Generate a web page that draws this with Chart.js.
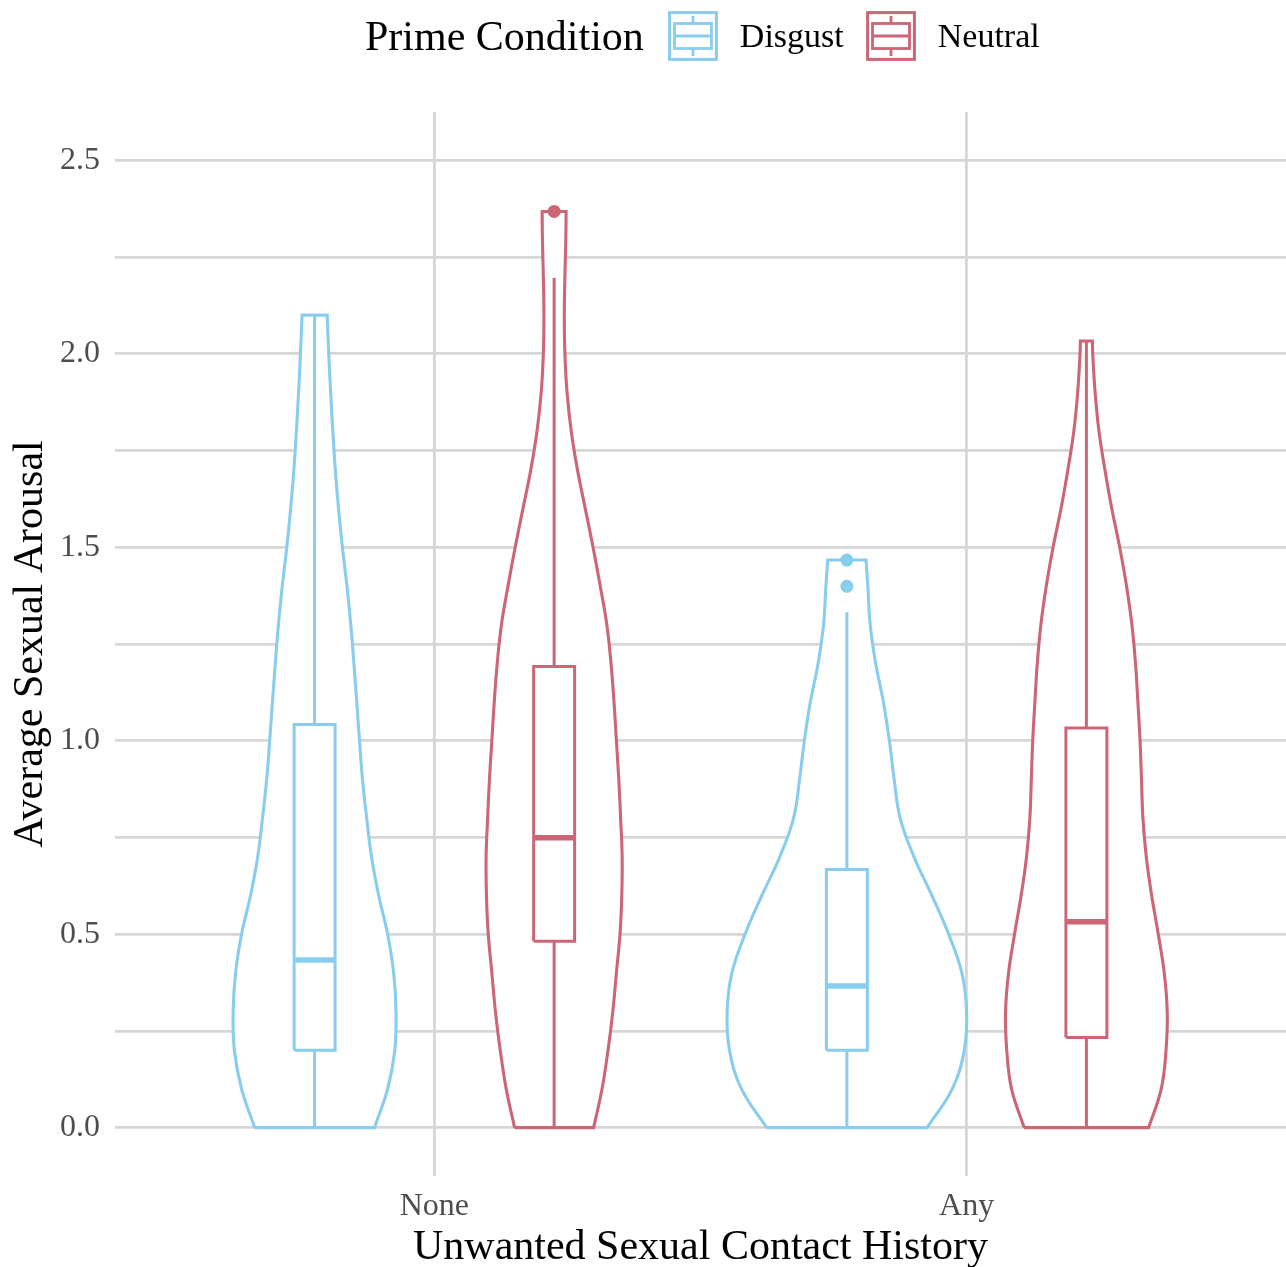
<!DOCTYPE html>
<html>
<head>
<meta charset="utf-8">
<title>Average Sexual Arousal by Unwanted Sexual Contact History</title>
<script src="https://cdn.jsdelivr.net/npm/chart.js@4.4.1/dist/chart.umd.min.js"></script>
<style>
    body { margin: 0; background: #ffffff; }
    #wrap { position: relative; width: 1286px; height: 1267px; overflow: hidden; }
    #chart { display: block; }
    #legend {
        position: absolute; top: 0; left: 365px; height: 72px;
        display: flex; align-items: center;
        font-family: 'Liberation Serif', 'Times New Roman', serif; color: #000;
    }
    #legend .title { font-size: 42px; margin-right: 24px; }
    #legend .key { width: 50px; height: 50px; margin-right: 22px; }
    #legend .label { font-size: 34px; margin-right: 22px; }
</style>
</head>
<body>
<div id="wrap">
    <canvas id="chart" width="1286" height="1267"></canvas>
    <div id="legend"></div>
</div>
<script>
// Categories and groups
const categories = ['None', 'Any'];
const conditions = ['Disgust', 'Neutral'];
const colors = ['#88CCEE', '#CC6677'];

// Axis ticks
const xTickValues = [1, 2];
const yLabelTicks = [0, 0.5, 1.0, 1.5, 2.0, 2.5];
const yMinorTicks = [0.25, 0.75, 1.25, 1.75, 2.25];

// Violin outlines (y level, relative density)
const noneDisgustY = [0, 0.1, 0.2, 0.3, 0.4, 0.5, 0.6, 0.7, 0.8, 0.9, 1.0, 1.1, 1.2, 1.3, 1.4, 1.5, 1.6, 1.7, 1.8, 1.9, 2.0, 2.1];
const noneDisgustDensity = [0.50, 0.61, 0.67, 0.68, 0.66, 0.61, 0.535, 0.475, 0.435, 0.40, 0.375, 0.352, 0.328, 0.302, 0.27, 0.232, 0.20, 0.173, 0.152, 0.134, 0.118, 0.105];

const noneNeutralY = [0, 0.1, 0.2, 0.3, 0.4, 0.5, 0.6, 0.7, 0.8, 0.9, 1.0, 1.1, 1.2, 1.3, 1.4, 1.5, 1.6, 1.7, 1.8, 1.9, 2.0, 2.1, 2.2, 2.3, 2.368];
const noneNeutralDensity = [0.33, 0.40, 0.45, 0.49, 0.52, 0.55, 0.565, 0.568, 0.555, 0.54, 0.52, 0.50, 0.475, 0.44, 0.385, 0.325, 0.26, 0.195, 0.143, 0.108, 0.09, 0.085, 0.09, 0.098, 0.10];

const anyDisgustY = [0, 0.1, 0.2, 0.3, 0.4, 0.5, 0.6, 0.7, 0.8, 0.9, 1.0, 1.1, 1.2, 1.3, 1.4, 1.467];
const anyDisgustDensity = [0.67, 0.88, 0.98, 1.0, 0.96, 0.85, 0.71, 0.56, 0.445, 0.395, 0.355, 0.305, 0.24, 0.195, 0.175, 0.16];

const anyNeutralY = [0, 0.1, 0.2, 0.3, 0.4, 0.5, 0.6, 0.7, 0.8, 0.9, 1.0, 1.1, 1.2, 1.3, 1.4, 1.5, 1.6, 1.7, 1.8, 1.9, 2.0, 2.033];
const anyNeutralDensity = [0.52, 0.625, 0.665, 0.675, 0.65, 0.60, 0.545, 0.50, 0.472, 0.46, 0.448, 0.43, 0.41, 0.38, 0.335, 0.278, 0.212, 0.155, 0.105, 0.073, 0.053, 0.05];

// Boxplot statistics per category [None, Any]
const disgustLower = [0, 0];
const disgustQ1 = [0.20, 0.20];
const disgustMedian = [0.433, 0.366];
const disgustQ3 = [1.042, 0.667];
const disgustUpper = [2.1, 1.332];
const disgustOutliers = [[], [1.467, 1.399]];

const neutralLower = [0, 0];
const neutralQ1 = [0.482, 0.233];
const neutralMedian = [0.749, 0.532];
const neutralQ3 = [1.192, 1.033];
const neutralUpper = [2.196, 2.033];
const neutralOutliers = [[2.368], []];

// Layout constants
const dodge = 0.225;
const violinHalfWidth = 0.225;
const boxHalfWidth = 0.0385;
const serif = "'Liberation Serif', 'Times New Roman', serif";

const violins = [
    { cat: 0, cond: 0, ys: noneDisgustY, dens: noneDisgustDensity },
    { cat: 0, cond: 1, ys: noneNeutralY, dens: noneNeutralDensity },
    { cat: 1, cond: 0, ys: anyDisgustY, dens: anyDisgustDensity },
    { cat: 1, cond: 1, ys: anyNeutralY, dens: anyNeutralDensity }
];

const boxStats = [
    { lower: disgustLower, q1: disgustQ1, med: disgustMedian, q3: disgustQ3, upper: disgustUpper, out: disgustOutliers },
    { lower: neutralLower, q1: neutralQ1, med: neutralMedian, q3: neutralQ3, upper: neutralUpper, out: neutralOutliers }
];

function centerX(cat, cond) {
    return xTickValues[cat] + (cond === 0 ? -dodge : dodge);
}

// Outline with doubled corner points so the curve keeps sharp corners
function violinOutline(cx, ys, dens) {
    const right = ys.map((y, i) => ({ x: cx + dens[i] * violinHalfWidth, y: y }));
    const left = ys.map((y, i) => ({ x: cx - dens[i] * violinHalfWidth, y: y }));
    const n = ys.length - 1;
    const pts = [left[0], right[0]];
    for (let i = 0; i <= n; i++) pts.push(right[i]);
    pts.push(right[n]);
    pts.push(left[n]);
    for (let i = n; i >= 0; i--) pts.push(left[i]);
    return pts;
}

function lineDataset(points, color, width) {
    return {
        data: points, showLine: true, borderColor: color, borderWidth: width,
        pointRadius: 0, fill: false, tension: 0, borderJoinStyle: 'miter'
    };
}

const datasets = [];

// Violins first (under the boxes)
violins.forEach(v => {
    const cx = centerX(v.cat, v.cond);
    datasets.push({
        data: violinOutline(cx, v.ys, v.dens),
        showLine: true, borderColor: colors[v.cond], borderWidth: 3.1,
        backgroundColor: '#ffffff', fill: 'shape',
        pointRadius: 0, tension: 0.4, borderJoinStyle: 'miter'
    });
});

// Boxplots
boxStats.forEach((s, cond) => {
    categories.forEach((c, cat) => {
        const cx = centerX(cat, cond);
        const col = colors[cond];
        datasets.push(lineDataset([{ x: cx, y: s.q3[cat] }, { x: cx, y: s.upper[cat] }], col, 3));
        datasets.push(lineDataset([{ x: cx, y: s.q1[cat] }, { x: cx, y: s.lower[cat] }], col, 3));
        datasets.push(lineDataset([
            { x: cx - boxHalfWidth, y: s.q1[cat] },
            { x: cx + boxHalfWidth, y: s.q1[cat] },
            { x: cx + boxHalfWidth, y: s.q3[cat] },
            { x: cx - boxHalfWidth, y: s.q3[cat] },
            { x: cx - boxHalfWidth, y: s.q1[cat] }
        ], col, 3));
        datasets.push(lineDataset([
            { x: cx - boxHalfWidth, y: s.med[cat] },
            { x: cx + boxHalfWidth, y: s.med[cat] }
        ], col, 5.5));
        if (s.out[cat].length) {
            datasets.push({
                data: s.out[cat].map(y => ({ x: cx, y: y })),
                showLine: false, pointRadius: 6.5, pointBorderWidth: 0,
                pointBackgroundColor: col, pointBorderColor: col
            });
        }
    });
});

// Later datasets drawn on top
datasets.forEach((d, i) => { d.order = datasets.length - i; });

const gridColor = '#d6d6d6';

new Chart(document.getElementById('chart').getContext('2d'), {
    type: 'scatter',
    data: { datasets: datasets },
    options: {
        responsive: false,
        animation: false,
        events: [],
        layout: { autoPadding: false, padding: { top: 112, right: 0, bottom: 0, left: 0 } },
        plugins: { legend: { display: false }, tooltip: { enabled: false } },
        scales: {
            x: {
                type: 'linear', min: 0.4, max: 2.6,
                afterBuildTicks: scale => { scale.ticks = xTickValues.map(v => ({ value: v })); },
                afterFit: scale => {
                    scale.height = 91;
                    scale.paddingLeft = 0;
                    scale.paddingRight = 0;
                },
                ticks: {
                    callback: v => categories[xTickValues.indexOf(v)],
                    font: { family: serif, size: 32 }, color: '#4d4d4d', padding: 11
                },
                grid: { color: gridColor, lineWidth: 2.8, drawTicks: false },
                border: { display: false },
                title: {
                    display: true, text: 'Unwanted Sexual Contact History',
                    font: { family: serif, size: 42, lineHeight: 0.9 }, color: '#000000',
                    padding: { top: 0, bottom: 0 }
                }
            },
            y: {
                type: 'linear', min: -0.125, max: 2.625,
                afterBuildTicks: scale => {
                    scale.ticks = yLabelTicks.concat(yMinorTicks).sort((a, b) => a - b).map(v => ({ value: v }));
                },
                afterFit: scale => {
                    scale.width = 115;
                    scale.paddingTop = 0;
                    scale.paddingBottom = 0;
                },
                ticks: {
                    callback: v => yLabelTicks.includes(v) ? v.toFixed(1) : '',
                    font: { family: serif, size: 32 }, color: '#4d4d4d', padding: 15,
                    autoSkip: false
                },
                grid: { color: gridColor, lineWidth: 2.8, drawTicks: false },
                border: { display: false },
                title: {
                    display: true, text: 'Average Sexual Arousal',
                    font: { family: serif, size: 42, lineHeight: 1 }, color: '#000000',
                    padding: { top: 10, bottom: 0 }
                }
            }
        }
    }
});

// Legend: title, then a key per condition
function keySvg(color) {
    return '<svg class="key" width="50" height="50" viewBox="0 0 50 50">' +
        '<rect x="1.6" y="1.6" width="46.8" height="46.8" fill="#fff" stroke="' + color + '" stroke-width="3"/>' +
        '<line x1="25" y1="5" x2="25" y2="12.5" stroke="' + color + '" stroke-width="2.8"/>' +
        '<line x1="25" y1="37.5" x2="25" y2="45" stroke="' + color + '" stroke-width="2.8"/>' +
        '<rect x="6.5" y="12.5" width="37" height="25" fill="#fff" stroke="' + color + '" stroke-width="2.8"/>' +
        '<line x1="6.5" y1="25" x2="43.5" y2="25" stroke="' + color + '" stroke-width="2.8"/>' +
        '</svg>';
}

const legend = document.getElementById('legend');
let html = '<span class="title">Prime Condition</span>';
conditions.forEach((c, i) => {
    html += keySvg(colors[i]) + '<span class="label">' + c + '</span>';
});
legend.innerHTML = html;
</script>
</body>
</html>
